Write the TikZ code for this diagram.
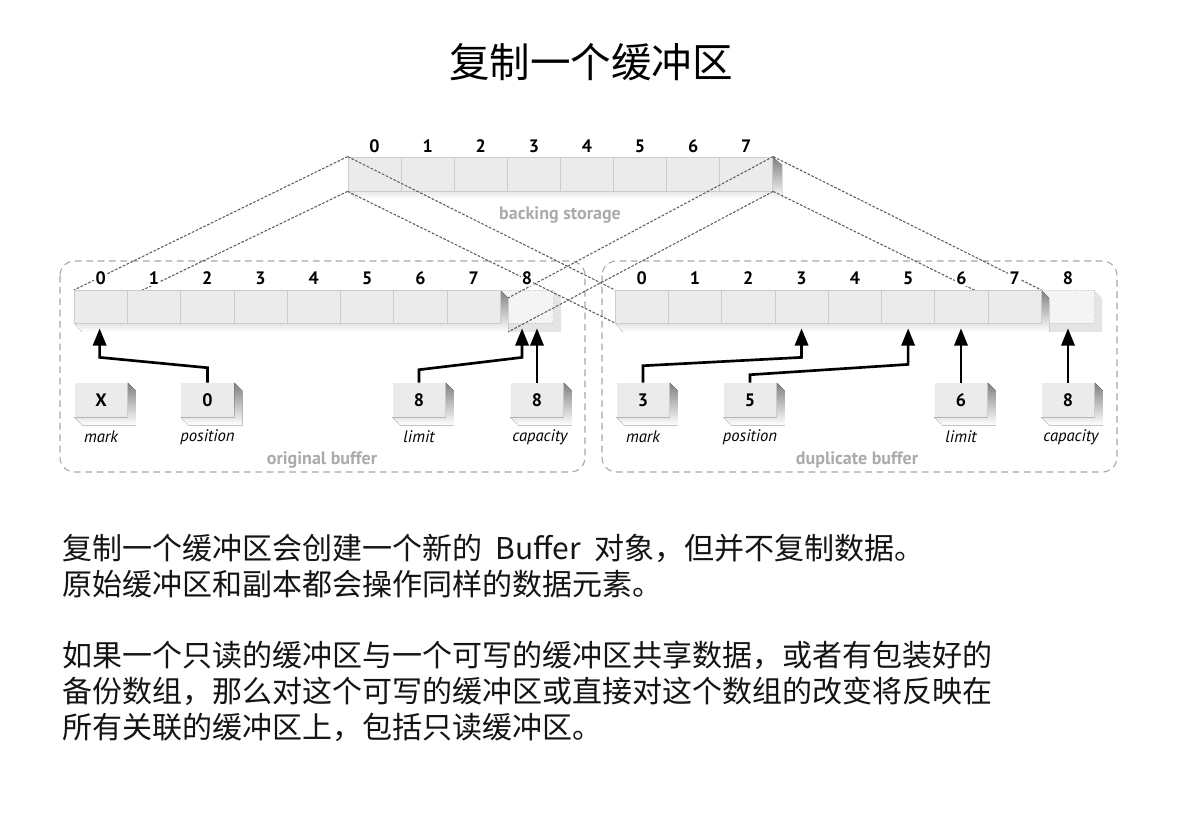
\documentclass[tikz,border=0pt]{standalone}
\usepackage{fontspec}
\setmainfont{PT Sans}
\newfontfamily\cjk{Noto Sans CJK SC}
\newfontfamily\labf{PT Sans}
\usetikzlibrary{arrows.meta,calc}
\definecolor{cellfill}{HTML}{EBEBEB}
\definecolor{celldiv}{HTML}{CCCCCC}
\definecolor{shade}{HTML}{C2C2C2}
\definecolor{ghostfill}{HTML}{F4F4F4}
\definecolor{ghostshade}{HTML}{E4E4E4}
\definecolor{linkc}{HTML}{5E5E5E}
\definecolor{boxc}{HTML}{A6A6A6}
\definecolor{graytext}{HTML}{ABABAB}
\newcommand{\extrude}[3]{% node, dx, dy
  \fill[shade] (#1.north east) -- ($(#1.north east)+(#2,#3)$) -- ($(#1.south east)+(#2,#3)$) -- ($(#1.south west)+(#2,#3)$) -- (#1.south west) -- (#1.south east) -- cycle;}
\tikzset{
  cell/.style={draw=celldiv, fill=cellfill, line width=0.6pt, minimum width=39.975pt, minimum height=24.75pt, inner sep=0pt},
  bcell/.style={cell, minimum width=39.8pt, minimum height=25.5pt},
  ghostcell/.style={draw=celldiv, densely dotted, fill=ghostfill, line width=0.6pt, minimum width=39.975pt, minimum height=24.75pt, inner sep=0pt},
  pbox/.style={fill=cellfill, minimum width=39.75pt, minimum height=25.5pt, inner sep=0pt, font=\labf\bfseries\fontsize{13.5}{13.5}\selectfont},
  idx/.style={fill=white, inner sep=1pt, font=\labf\bfseries\fontsize{13.5}{13.5}\selectfont},
  namelab/.style={inner sep=0pt, font=\labf\itshape\fontsize{12.5}{12.5}\selectfont},
  graylab/.style={inner sep=0pt, text=graytext, font=\labf\bfseries\fontsize{13.5}{13.5}\selectfont},
  link/.style={draw=linkc, line width=0.8pt, dash pattern=on 2pt off 1.2pt},
  container/.style={draw=boxc, line width=0.8pt, dash pattern=on 5pt off 3.5pt, rounded corners=11pt},
  ptr/.style={draw=black, line width=2pt, -{Triangle[length=13pt,width=10pt]}},
  bodytext/.style={anchor=west, inner sep=0pt, font=\cjk\fontsize{22.5}{22.5}\selectfont, text=black!92}
}
\begin{document}
\begin{tikzpicture}[x=0.75pt,y=-0.75pt]
\useasboundingbox (0,0) rectangle (1183,816);
\fill[white] (0,0) rectangle (1183,816);

% title
\node[inner sep=0pt, font=\cjk\fontsize{30.4}{30.4}\selectfont] (title) at (591,62) {复制一个缓冲区};

% containers
\draw[container] (60,261) rectangle (585,472);
\draw[container] (602,261) rectangle (1117,472);
\node[graylab] (lorig) at (322,460) {original buffer};
\node[graylab] (ldup) at (857,460) {duplicate buffer};

% backing storage
\fill[shade] (348,191) -- (357,199) -- (782,199) -- (782,165) -- (773,157) -- (773,191) -- cycle;
\foreach \i in {0,...,7} {
  \node[bcell] (b\i) at ({348+53.1*(\i+0.5)},174) {};
  \node[idx] (bn\i) at ({348+53.1*(\i+0.5)},146) {\i};
}
\node[graylab] (lback) at (560,215) {backing storage};

% ghost cells
\fill[ghostshade] (553,290) -- (561,298) -- (561,332) -- (508,332) -- (500,323) -- (553,323) -- cycle;
\node[ghostcell] (og) at ({74+53.3*8.5},306.5) {};
\fill[ghostshade] (1094,290) -- (1102,298) -- (1102,332) -- (1049,332) -- (1041,323) -- (1094,323) -- cycle;
\node[ghostcell] (dg) at ({615+53.3*8.5},306.5) {};

% row shadows
\fill[shade] (74,323) -- (82,332) -- (508,332) -- (508,298) -- (500,290) -- (500,323) -- cycle;
\fill[shade] (615,323) -- (623,332) -- (1049,332) -- (1049,298) -- (1041,290) -- (1041,323) -- cycle;

% connectors between backing storage and buffers
\coordinate (oR1) at (508,298);
\coordinate (oR2) at (508,332);
\draw[link] (b0.north west) -- (74,290);
\draw[link] (b0.south west) -- (74,323);
\draw[link] (b0.north west) -- (615,290);
\draw[link] (b0.south west) -- (615,323);
\draw[link] (b7.north east) -- (oR1);
\draw[link] (b7.south east) -- (oR2);
\draw[link] (b7.north east) -- (1041.4,290);
\draw[link] (b7.south east) -- (1041.4,323);

% buffer cells
\foreach \i in {0,...,7} {
  \node[cell] (o\i) at ({74+53.3*(\i+0.5)},306.5) {};
  \node[cell] (d\i) at ({615+53.3*(\i+0.5)},306.5) {};
  \node[idx] (on\i) at ({74+53.3*(\i+0.5)},278) {\i};
  \node[idx] (dn\i) at ({615+53.3*(\i+0.5)},278) {\i};
}
\node[idx] (on8) at ({74+53.3*8.5},278) {8};
\node[idx] (dn8) at ({615+53.3*8.5},278) {8};

% pointer boxes
\node[pbox] (omark) at (101,400) {X};
\node[pbox] (opos) at (207.5,400) {0};
\node[pbox] (olim) at (419,400) {8};
\node[pbox] (ocap) at (537,400) {8};
\node[pbox] (dmark) at (643,400) {3};
\node[pbox] (dpos) at (750,400) {5};
\node[pbox] (dlim) at (961,400) {6};
\node[pbox] (dcap) at (1068,400) {8};
\foreach \n in {omark,opos,olim,ocap,dmark,dpos,dlim,dcap} {\extrude{\n}{8}{8}}

\node[namelab] (omarkl) at (101,437) {mark};
\node[namelab] (oposl) at (207.5,437) {position};
\node[namelab] (oliml) at (419,437) {limit};
\node[namelab] (ocapl) at (540,437) {capacity};
\node[namelab] (dmarkl) at (643,437) {mark};
\node[namelab] (dposl) at (750,437) {position};
\node[namelab] (dliml) at (961,437) {limit};
\node[namelab] (dcapl) at (1071,437) {capacity};

% pointer arrows
\draw[ptr] (opos.north) -- ++(0,-15) -- ($(o0.south)+(-1,34)$) -- ($(o0.south)+(-1,5)$);
\draw[ptr] (olim.north) -- ++(0,-13) -- ($(og.south)+(-5,34)$) -- ($(og.south)+(-5,5)$);
\draw[ptr] (ocap.north) -- ($(ocap.north |- og.south)+(0,5)$);
\draw[ptr] (dmark.north) -- ++(0,-17) -- ($(d3.south)+(0,34)$) -- ($(d3.south)+(0,5)$);
\draw[ptr] (dpos.north) -- ++(0,-8) -- ($(d5.south)+(0,41)$) -- ($(d5.south)+(0,5)$);
\draw[ptr] (dlim.north) -- ($(dlim.north |- d6.south)+(0,5)$);
\draw[ptr] (dcap.north) -- ($(dcap.north |- dg.south)+(0,5)$);

% body text
\node[bodytext] (t1) at (62,548) {复制一个缓冲区会创建一个新的\hspace{0.45em}Buffer\hspace{0.45em}对象，但并不复制数据。};
\node[bodytext] (t2) at (62,584) {原始缓冲区和副本都会操作同样的数据元素。};
\node[bodytext] (t3) at (62,655) {如果一个只读的缓冲区与一个可写的缓冲区共享数据，或者有包装好的};
\node[bodytext] (t4) at (62,691) {备份数组，那么对这个可写的缓冲区或直接对这个数组的改变将反映在};
\node[bodytext] (t5) at (62,727) {所有关联的缓冲区上，包括只读缓冲区。};
\end{tikzpicture}
\end{document}
